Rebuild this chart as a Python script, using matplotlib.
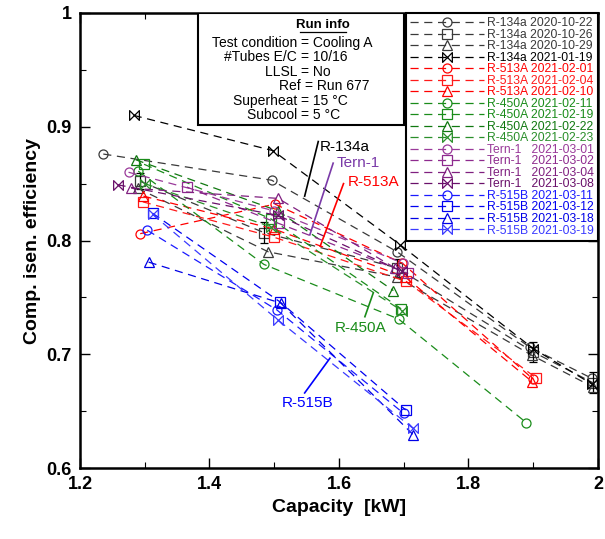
import matplotlib
matplotlib.use("Agg")
import matplotlib.pyplot as plt
from matplotlib.path import Path
from matplotlib.patches import Rectangle

plt.rcParams["font.family"] = ["Liberation Sans", "DejaVu Sans"]

# ========= DATA =========
r134a_dates = ["2020-10-22", "2020-10-26", "2020-10-29", "2021-01-19"]
r134a_cap = [[1.236, 1.496, 1.690, 1.895, 1.990],
             [1.293, 1.484, 1.689, 1.900, 1.992],
             [1.289, 1.491, 1.689, 1.898, 1.993],
             [1.283, 1.498, 1.695, 1.900, 1.990]]
r134a_eff = [[0.876, 0.853, 0.790, 0.706, 0.679],
             [0.852, 0.807, 0.776, 0.702, 0.675],
             [0.846, 0.790, 0.768, 0.699, 0.671],
             [0.910, 0.879, 0.796, 0.705, 0.674]]
r134a_err = [0.007, 0.009, 0.008, 0.009, 0.009]  # error bars on the 10-26 run

r513a_dates = ["2021-02-01", "2021-02-04", "2021-02-10"]
r513a_cap = [[1.293, 1.501, 1.698, 1.900],
             [1.297, 1.499, 1.704, 1.905],
             [1.298, 1.500, 1.702, 1.898]]
r513a_eff = [[0.806, 0.832, 0.780, 0.678],
             [0.834, 0.803, 0.764, 0.679],
             [0.839, 0.810, 0.768, 0.676]]

r450a_dates = ["2021-02-11", "2021-02-19", "2021-02-22", "2021-02-23"]
r450a_cap = [[1.290, 1.484, 1.692, 1.889],
             [1.299, 1.495, 1.696],
             [1.286, 1.506, 1.684],
             [1.300, 1.495, 1.698]]
r450a_eff = [[0.861, 0.779, 0.731, 0.640],
             [0.867, 0.819, 0.740],
             [0.871, 0.826, 0.756],
             [0.850, 0.812, 0.738]]

tern1_dates = ["2021-03-01", "2021-03-02", "2021-03-04", "2021-03-08"]
tern1_cap = [[1.275, 1.500, 1.699],
             [1.365, 1.507, 1.707],
             [1.279, 1.506, 1.686],
             [1.258, 1.506, 1.697]]
tern1_eff = [[0.860, 0.826, 0.780],
             [0.847, 0.815, 0.771],
             [0.846, 0.837, 0.776],
             [0.849, 0.822, 0.773]]

r515b_dates = ["2021-03-11", "2021-03-12", "2021-03-18", "2021-03-19"]
r515b_cap = [[1.304, 1.504, 1.700],
             [1.312, 1.509, 1.703],
             [1.306, 1.510, 1.715],
             [1.312, 1.506, 1.714]]
r515b_eff = [[0.809, 0.739, 0.648],
             [0.824, 0.746, 0.651],
             [0.781, 0.745, 0.629],
             [0.823, 0.730, 0.635]]

run_info = [("Test condition", "Cooling A"), ("#Tubes E/C", "10/16"),
            ("LLSL", "No"), ("Ref", "Run 677"),
            ("Superheat", "15 \u00b0C"), ("Subcool", "5 \u00b0C")]

# ========= STYLE =========
bowtie = Path([(-1, -1), (1, 1), (1, -1), (-1, 1), (-1, -1)],
              [Path.MOVETO, Path.LINETO, Path.LINETO, Path.LINETO, Path.CLOSEPOLY])
markers = ["o", "s", "^", bowtie]

groups = [
    ("R-134a", r134a_dates, r134a_cap, r134a_eff,
     ["#3a3a3a", "#3a3a3a", "#3a3a3a", "#000000"], [0, 1, 2, 3]),
    ("R-513A", r513a_dates, r513a_cap, r513a_eff,
     ["#ff0000", "#ff1a1a", "#ff0000"], [0, 1, 2]),
    ("R-450A", r450a_dates, r450a_cap, r450a_eff,
     ["#1a8c1a", "#1a8c1a", "#107810", "#2a8f2a"], [0, 1, 2, 3]),
    ("Tern-1  ", tern1_dates, tern1_cap, tern1_eff,
     ["#9a3a9a", "#8e2a8e", "#802080", "#6a106a"], [0, 1, 2, 3]),
    ("R-515B", r515b_dates, r515b_cap, r515b_eff,
     ["#1a1aff", "#0000f0", "#0000e6", "#3a3aff"], [0, 1, 2, 3]),
]

fig = plt.figure(figsize=(6.05, 5.39), dpi=100)
ax = fig.add_axes([0.1322, 0.1317, 0.8562, 0.8442])

for name, dates, caps, effs, colors, mk in groups:
    for d, x, y, c, m in zip(dates, caps, effs, colors, mk):
        ax.plot(x, y, linestyle=(0, (6.5, 4.5)), lw=0.9, color=c,
                marker=markers[m], ms=6.5 if m == 0 else 7, mfc="none",
                mec=c, mew=0.9, label=f"{name} {d}")
        if name == "R-134a" and d == "2020-10-26":
            ax.errorbar(x, y, yerr=r134a_err, fmt="none", ecolor="black",
                        elinewidth=0.9, capsize=3, capthick=0.9)

# group labels: (text, leader start, leader end, text anchor, ha, va, colour)
notes = [("R-134a", (1.568, 0.887), (1.547, 0.839), (1.571, 0.882), "left", "center", "black"),
         ("Tern-1", (1.591, 0.868), (1.555, 0.805), (1.597, 0.868), "left", "center", "#7a3aa8"),
         ("R-513A", (1.607, 0.850), (1.571, 0.795), (1.614, 0.851), "left", "center", "red"),
         ("R-450A", (1.653, 0.754), (1.640, 0.733), (1.634, 0.723), "center", "center", "#1a8c1a"),
         ("R-515B", (1.586, 0.6965), (1.547, 0.666), (1.551, 0.657), "center", "center", "blue")]
for txt, p0, p1, pt, ha, va, c in notes:
    ax.plot([p0[0], p1[0]], [p0[1], p1[1]], color=c, lw=1.2)
    ax.text(pt[0], pt[1], txt, color=c, fontsize=11, ha=ha, va=va)

ax.set_xlim(1.2, 2.0)
ax.set_ylim(0.6, 1.0)
ax.set_xticks([1.2, 1.4, 1.6, 1.8, 2.0], ["1.2", "1.4", "1.6", "1.8", "2"])
ax.set_yticks([0.6, 0.7, 0.8, 0.9, 1.0], ["0.6", "0.7", "0.8", "0.9", "1"])
ax.set_xticks([1.3, 1.5, 1.7, 1.9], minor=True)
ax.set_yticks([0.65, 0.75, 0.85, 0.95], minor=True)
ax.tick_params(which="both", direction="in", top=True, right=True)
ax.tick_params(which="major", length=7, width=1.0, labelsize=13, pad=6)
ax.tick_params(which="minor", length=4, width=0.8)
for lab in ax.get_xticklabels() + ax.get_yticklabels():
    lab.set_fontweight("bold")
for s in ax.spines.values():
    s.set_linewidth(1.8)

ax.set_xlabel("Capacity  [kW]", fontsize=14, fontweight="bold")
ax.set_ylabel("Comp. isen. efficiency", fontsize=14, fontweight="bold")

# run info box
ax.add_patch(Rectangle((0.2278, 0.7538), 0.3977, 0.2462, transform=ax.transAxes,
                       fill=True, facecolor="white", edgecolor="black",
                       lw=1.5, zorder=5))
ax.text(0.469, 0.9736, "Run info", transform=ax.transAxes, ha="center", va="center",
        fontsize=9.5, fontweight="bold", zorder=6)
ax.plot([0.424, 0.514], [0.9585, 0.9585], transform=ax.transAxes, color="black",
        lw=0.9, zorder=6)
for i, (k, v) in enumerate(run_info):
    yy = 0.934 - i * 0.0316
    xx = 0.4266 + (0.008 if k == "Ref" else 0.0)
    ax.text(xx, yy, k + " ", transform=ax.transAxes, ha="right", va="center",
            fontsize=10, zorder=6)
    ax.text(xx, yy, "= " + v, transform=ax.transAxes, ha="left", va="center",
            fontsize=10, zorder=6)

leg = ax.legend(loc="upper right", bbox_to_anchor=(1.0, 1.0), fontsize=8.7,
                labelcolor="linecolor", frameon=True, fancybox=False,
                framealpha=1, edgecolor="black", handlelength=6.1,
                handletextpad=0.25, labelspacing=-0.04, borderpad=0.35,
                borderaxespad=0, numpoints=1)
leg.get_frame().set_linewidth(1.5)
leg.set_zorder(7)

fig.savefig("out.png", dpi=100)
